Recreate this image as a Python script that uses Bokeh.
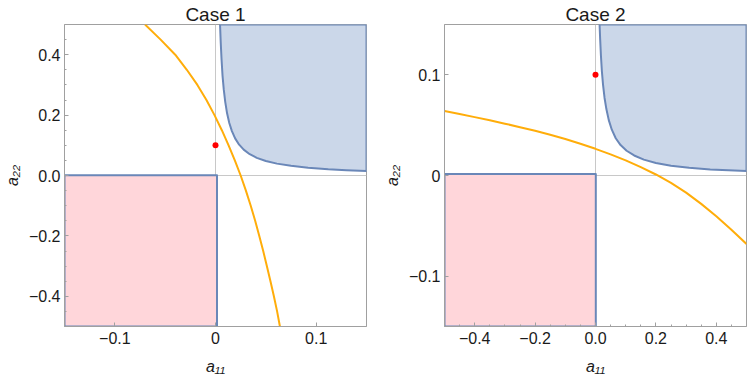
from bokeh.plotting import figure
from bokeh.layouts import row
from bokeh.models import FixedTicker, Span, Range1d
from bokeh.embed import file_html
from bokeh.resources import INLINE

# ---------------- data ----------------
# Case 1
c1_title = "Case 1"
c1_xlim = [-0.15, 0.15]
c1_ylim = [-0.5, 0.5]
c1_blue_x = [0.0045, 0.0052, 0.006, 0.007, 0.0082, 0.0097, 0.0115, 0.0137, 0.0163, 0.0195,
             0.0235, 0.028, 0.034, 0.041, 0.05, 0.061, 0.075, 0.092, 0.112, 0.13, 0.15]
c1_blue_y = [0.5, 0.44, 0.385, 0.33, 0.285, 0.243, 0.206, 0.174, 0.147, 0.123,
             0.102, 0.0857, 0.0706, 0.0585, 0.048, 0.0393, 0.032, 0.026, 0.0208, 0.0175, 0.0147]
c1_pink_x = [-0.15, 0.0015]
c1_pink_y = [-0.5, 0.001]
c1_curve_x = [-0.070, -0.0545, -0.040, -0.0285, -0.018, -0.009, -0.001, 0.0063, 0.013, 0.0192,
              0.025, 0.0302, 0.035, 0.0394, 0.0435, 0.0474, 0.051, 0.0546, 0.058, 0.0612, 0.064]
c1_curve_y = [0.5, 0.45, 0.4, 0.35, 0.3, 0.25, 0.2, 0.15, 0.1, 0.05,
              0.0, -0.05, -0.1, -0.15, -0.2, -0.25, -0.3, -0.35, -0.4, -0.45, -0.5]
c1_point_x = [0.0]
c1_point_y = [0.1]
c1_xticks = [-0.1, 0, 0.1]
c1_xlabels = ["\u22120.1", "0", "0.1"]
c1_xminor = []
c1_yticks = [-0.4, -0.2, 0, 0.2, 0.4]
c1_ylabels = ["\u22120.4", "\u22120.2", "0.0", "0.2", "0.4"]
c1_yminor = [-0.45, -0.35, -0.3, -0.25, -0.15, -0.1, -0.05, 0.05, 0.1, 0.15, 0.25, 0.3, 0.35, 0.45]

# Case 2
c2_title = "Case 2"
c2_xlim = [-0.5, 0.5]
c2_ylim = [-0.15, 0.15]
c2_blue_x = [0.0135, 0.0155, 0.018, 0.021, 0.025, 0.03, 0.036, 0.044, 0.054, 0.067,
             0.083, 0.103, 0.128, 0.16, 0.2, 0.25, 0.31, 0.38, 0.44, 0.5]
c2_blue_y = [0.15, 0.135, 0.119, 0.104, 0.09, 0.077, 0.066, 0.055, 0.0455, 0.037,
             0.0302, 0.0246, 0.0199, 0.0158, 0.0125, 0.0097, 0.0076, 0.006, 0.0051, 0.0044]
c2_pink_x = [-0.5, 0.001]
c2_pink_y = [-0.15, 0.0015]
c2_curve_x = [-0.5, -0.45, -0.4, -0.35, -0.3, -0.25, -0.2, -0.15, -0.1, -0.05,
              0.0, 0.05, 0.1, 0.15, 0.2, 0.25, 0.3, 0.35, 0.4, 0.45, 0.5]
c2_curve_y = [0.064, 0.0611, 0.058, 0.0548, 0.0515, 0.048, 0.0444, 0.0405, 0.0362, 0.0315,
              0.0265, 0.021, 0.015, 0.0083, 0.001, -0.0073, -0.017, -0.0282, -0.0405, -0.0538, -0.068]
c2_point_x = [0.0]
c2_point_y = [0.1]
c2_xticks = [-0.4, -0.2, 0, 0.2, 0.4]
c2_xlabels = ["\u22120.4", "\u22120.2", "0.0", "0.2", "0.4"]
c2_xminor = [-0.45, -0.35, -0.3, -0.25, -0.15, -0.1, -0.05, 0.05, 0.1, 0.15, 0.25, 0.3, 0.35, 0.45]
c2_yticks = [-0.1, 0, 0.1]
c2_ylabels = ["\u22120.1", "0", "0.1"]
c2_yminor = []

x_label = "a\u2081\u2081"
y_label = "a\u2082\u2082"

# ---------------- styling ----------------
FONT = "Liberation Sans"
BLUE_EDGE = "#6A87B8"
BLUE_FILL = "#CBD7E9"
PINK_FILL = "#FFD6DA"
ORANGE = "#FFAD0A"
FRAME = "#A0A0A0"
AXLINE = "#C8C8C8"
TEXT = "#1a1a1a"


def panel(title, xlim, ylim, blue_x, blue_y, pink_x, pink_y, cx, cy, px, py,
          xt, xl, xm, yt, yl, ym, border_left, border_right):
    p = figure(frame_width=302, frame_height=302,
               x_range=Range1d(*xlim), y_range=Range1d(*ylim),
               min_border_left=border_left, min_border_right=border_right,
               min_border_top=24, min_border_bottom=52,
               output_backend="svg", toolbar_location=None, tools="")
    p.background_fill_color = "white"
    p.border_fill_color = "white"
    p.outline_line_color = FRAME
    p.outline_line_width = 1
    p.grid.visible = False

    p.title.text = title
    p.title.align = "center"
    p.title.text_font = FONT
    p.title.text_font_size = "19px"
    p.title.text_font_style = "normal"
    p.title.text_color = TEXT
    p.title.standoff = 0
    p.title.offset = 0

    # axes through origin
    p.add_layout(Span(location=0, dimension="height", line_color=AXLINE,
                      line_width=1, level="underlay"))
    p.add_layout(Span(location=0, dimension="width", line_color=AXLINE,
                      line_width=1, level="underlay"))

    # pink region (a11<0, a22<0)
    p.patch([pink_x[0], pink_x[0], pink_x[1], pink_x[1]],
            [pink_y[0], pink_y[1], pink_y[1], pink_y[0]],
            fill_color=PINK_FILL, line_color=BLUE_EDGE, line_width=2,
            line_join="round")
    # blue region
    p.patch(blue_x + [xlim[1]], blue_y + [ylim[1]],
            fill_color=BLUE_FILL, line_color=BLUE_EDGE, line_width=2,
            line_join="round")
    # orange curve
    p.line(cx, cy, line_color=ORANGE, line_width=2)
    # red point
    p.scatter(px, py, size=6, fill_color="#FF0000", line_color=None)

    for ax, ticks, labels, minor in ((p.xaxis[0], xt, xl, xm), (p.yaxis[0], yt, yl, ym)):
        ax.ticker = FixedTicker(ticks=ticks, minor_ticks=minor)
        ax.major_label_overrides = dict(zip(ticks, labels))
        ax.axis_line_color = FRAME
        ax.major_tick_line_color = FRAME
        ax.minor_tick_line_color = FRAME
        ax.major_tick_in = 4
        ax.major_tick_out = 0
        ax.minor_tick_in = 2
        ax.minor_tick_out = 0
        ax.major_label_text_font = FONT
        ax.major_label_text_font_size = "16px"
        ax.major_label_text_color = TEXT
        ax.axis_label_text_font = FONT
        ax.axis_label_text_font_size = "16px"
        ax.axis_label_text_font_style = "italic"
        ax.axis_label_text_color = TEXT
    p.xaxis.axis_label = x_label
    p.yaxis.axis_label = y_label
    p.xaxis.major_label_standoff = 5
    p.yaxis.major_label_standoff = 4
    p.xaxis.axis_label_standoff = 11
    p.yaxis.axis_label_standoff = 5
    return p


p1 = panel(c1_title, c1_xlim, c1_ylim, c1_blue_x, c1_blue_y, c1_pink_x, c1_pink_y,
           c1_curve_x, c1_curve_y, c1_point_x, c1_point_y,
           c1_xticks, c1_xlabels, c1_xminor, c1_yticks, c1_ylabels, c1_yminor, 64, 14)
p2 = panel(c2_title, c2_xlim, c2_ylim, c2_blue_x, c2_blue_y, c2_pink_x, c2_pink_y,
           c2_curve_x, c2_curve_y, c2_point_x, c2_point_y,
           c2_xticks, c2_xlabels, c2_xminor, c2_yticks, c2_ylabels, c2_yminor, 63, 2)

layout = row(p1, p2)
open("out.html", "w").write(file_html(layout, INLINE))
